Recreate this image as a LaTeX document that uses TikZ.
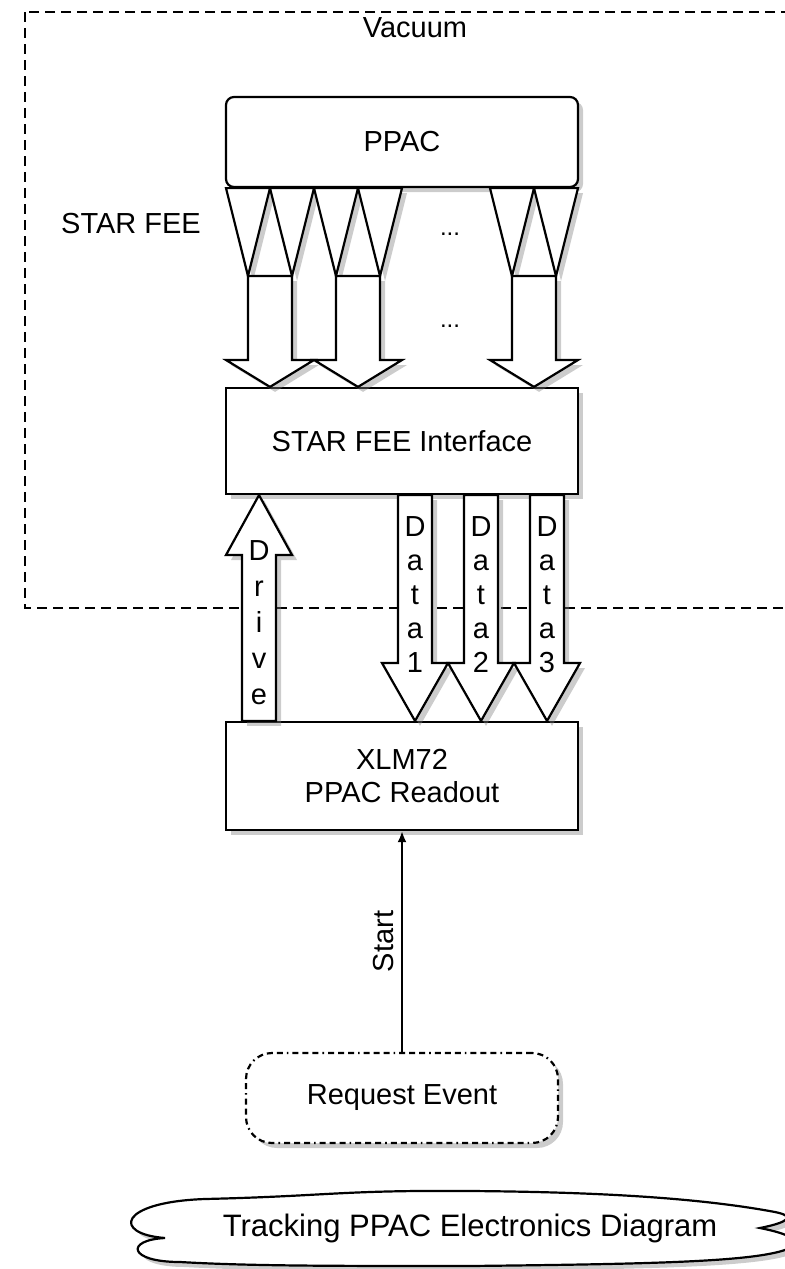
\documentclass[tikz,border=0pt]{standalone}
\usepackage{fontspec}
\setmainfont{Liberation Sans}
\usepackage{tikz}
\usetikzlibrary{
  arrows,%
  arrows.meta,%
  % drop shadows under boxes and block arrows
  shadows,%
  calc
}
\tikzset{>={Latex[length=5.5pt,width=4.5pt]}}
\tikzset{font=\fontsize{14.5}{17}\selectfont}
\tikzset{
  box/.style={draw, fill=white, line width=1.1pt, inner sep=0pt,
    drop shadow={shadow xshift=2.5pt, shadow yshift=-2.5pt, opacity=0.4}},
  blockarrow/.style={draw, fill=white, line width=1.1pt,
    drop shadow={shadow xshift=2.5pt, shadow yshift=-2.5pt, opacity=0.4}},
  vlabel/.style={align=center, inner sep=0pt},
  vacbox/.style={line width=1.1pt, dash pattern=on 5pt off 3pt},
  reqbox/.style={box, rounded corners=13pt,
    dash pattern=on 3pt off 2pt on 3pt off 2pt on 3pt off 2pt on 0.8pt off 2pt}
}

\begin{document}
\begin{tikzpicture}[x=0.5pt, y=-0.5pt]
  \useasboundingbox (0,0) rectangle (785,1269);
  \clip (0,0) rectangle (785,1269);
  % vacuum chamber
  \draw[vacbox] (25,12) rectangle (820,608);
  \node (vaclab) at (415,28) {Vacuum};
  \node (feelab) at (131,224) {STAR FEE};
  % boxes
  \node[box, rounded corners=4pt, minimum width=176pt, minimum height=45pt] (ppac) at (402,142) {PPAC};
  \node[box, minimum width=176pt, minimum height=53pt] (iface) at (402,441) {STAR FEE Interface};
  \node[box, align=center, font=\fontsize{14.5}{16.5}\selectfont,
    minimum width=176pt, minimum height=54pt] (xlm) at (402,776) {XLM72\\PPAC Readout};
  \node[reqbox, minimum width=156pt, minimum height=45pt] (req) at (402,1098) {Request Event};
  % front end cards
  \foreach \fx in {226,314,490} {
    \draw[blockarrow] (\fx,0 |- ppac.south) -- (\fx+22,276) -- (\fx+44,0 |- ppac.south) -- cycle;
    \draw[blockarrow] (\fx+44,0 |- ppac.south) -- (\fx+66,276) -- (\fx+88,0 |- ppac.south) -- cycle;
    \draw[blockarrow] (\fx+22,276) -- (\fx+22,360) -- (\fx,360) -- (\fx+44,0 |- iface.north)
      -- (\fx+88,360) -- (\fx+66,360) -- (\fx+66,276) -- cycle;
  }
  \node[font=\fontsize{12}{14}\selectfont] (dotsa) at (450,234) {...};
  \node[font=\fontsize{12}{14}\selectfont] (dotsb) at (450,326) {...};
  % drive and data lines
  \draw[blockarrow] (242,0 |- xlm.north) -- (242,555) -- (226,555) -- (259,0 |- iface.south)
    -- (292,555) -- (276,555) -- (276,0 |- xlm.north) -- cycle;
  \node[vlabel, font=\fontsize{14.5}{18}\selectfont] (drive) at (259,623) {D\\r\\i\\v\\e};
  \foreach \cx/\n in {415/1,481/2,547/3} {
    \draw[blockarrow] (\cx-17,0 |- iface.south) -- (\cx-17,663) -- (\cx-33,663) -- (\cx,0 |- xlm.north)
      -- (\cx+33,663) -- (\cx+17,663) -- (\cx+17,0 |- iface.south) -- cycle;
    \node[vlabel] (data\n) at (\cx,595) {D\\a\\t\\a\\\n};
  }
  % trigger
  \draw[->, line width=1.1pt] (req.north) -- node[midway, sloped, above] (startlab) {Start} (xlm.south);
  % title cloud
  \draw[blockarrow] (205,1199) .. controls (330,1196) and (340,1190) .. (470,1191)
    .. controls (600,1192) and (700,1198) .. (775,1212)
    .. controls (795,1216) and (790,1222) .. (760,1228)
    .. controls (790,1234) and (800,1240) .. (790,1248)
    .. controls (760,1262) and (650,1264) .. (470,1266)
    .. controls (330,1266) and (250,1266) .. (180,1262)
    .. controls (128,1262) and (125,1240) .. (165,1238)
    .. controls (112,1234) and (118,1202) .. (205,1199) -- cycle;
  \node[font=\fontsize{15.5}{18}\selectfont] (title) at (470,1228) {Tracking PPAC Electronics Diagram};
\end{tikzpicture}
\end{document}
